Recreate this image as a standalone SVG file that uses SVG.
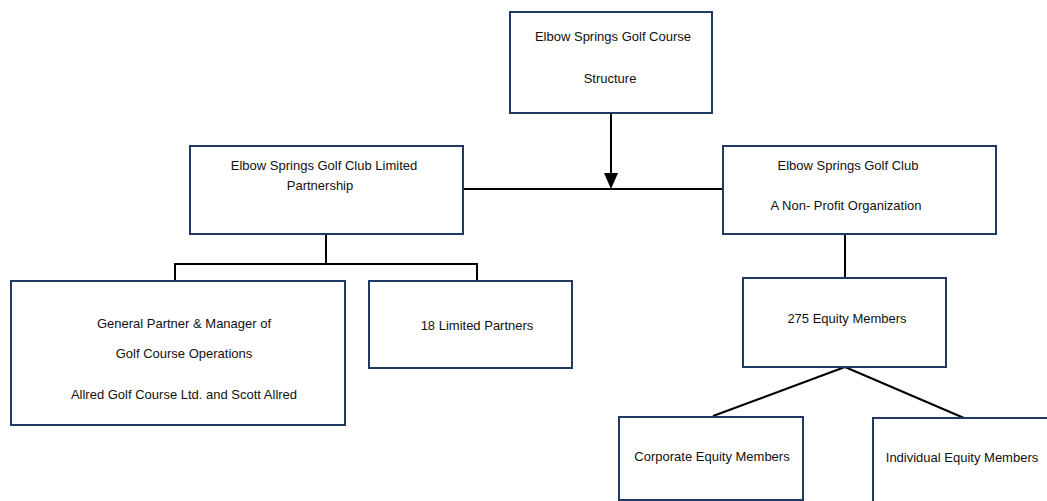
<svg xmlns="http://www.w3.org/2000/svg" width="1047" height="501" viewBox="0 0 1047 501">
<style>
.box{fill:#ffffff;stroke:#1f3864;stroke-width:2}
.t{font-family:"Liberation Sans",Arial,sans-serif;font-size:13px;fill:#111111;text-anchor:middle}
.c{fill:none;stroke:#000000;stroke-width:2}
</style>
<defs>
<marker id="ah" markerWidth="14" markerHeight="16" refX="7" refY="16" orient="0" markerUnits="userSpaceOnUse" viewBox="0 0 14 16">
<path d="M0,0 L14,0 L7,16 Z" fill="#000000"/>
</marker>
</defs>
<rect width="1047" height="501" fill="#ffffff"/>
<g id="connectors">
<line class="c" x1="611" y1="113" x2="611" y2="173"/>
<path d="M604,173 L618,173 L611,189 Z" fill="#000000"/>
<line class="c" x1="463" y1="189" x2="723" y2="189"/>
<polyline class="c" points="326,234 326,264"/>
<polyline class="c" points="175,281 175,264 477,264 477,281"/>
<line class="c" x1="845" y1="234" x2="845" y2="287"/>
<line class="c" x1="845" y1="367" x2="713" y2="416"/>
<line class="c" x1="845" y1="367" x2="964" y2="418"/>
</g>
<g id="node-top">
<rect class="box" x="510" y="12" width="202" height="101"/>
<text class="t" x="613" y="40.5">Elbow Springs Golf Course</text>
<text class="t" x="610" y="82.5">Structure</text>
</g>
<g id="node-lp">
<rect class="box" x="190" y="146" width="273" height="88"/>
<text class="t" x="324" y="170">Elbow Springs Golf Club Limited</text>
<text class="t" x="320" y="190">Partnership</text>
</g>
<g id="node-club">
<rect class="box" x="723" y="146" width="273" height="88"/>
<text class="t" x="848" y="169.5">Elbow Springs Golf Club</text>
<text class="t" x="846" y="209.5">A Non- Profit Organization</text>
</g>
<g id="node-gp">
<rect class="box" x="11" y="281" width="334" height="144"/>
<text class="t" x="184" y="328">General Partner &amp; Manager of</text>
<text class="t" x="184" y="357.5">Golf Course Operations</text>
<text class="t" x="184" y="399">Allred Golf Course Ltd. and Scott Allred</text>
</g>
<g id="node-limited">
<rect class="box" x="369" y="281" width="203" height="87"/>
<text class="t" x="477" y="329.5">18 Limited Partners</text>
</g>
<g id="node-equity">
<rect class="box" x="743" y="278" width="203" height="89"/>
<text class="t" x="847" y="322.5">275 Equity Members</text>
</g>
<g id="node-corporate">
<rect class="box" x="619" y="417" width="184" height="83"/>
<text class="t" x="712" y="460.5">Corporate Equity Members</text>
</g>
<g id="node-individual">
<rect class="box" x="873" y="418" width="190" height="100"/>
<text class="t" x="962" y="461.5">Individual Equity Members</text>
</g>
</svg>
